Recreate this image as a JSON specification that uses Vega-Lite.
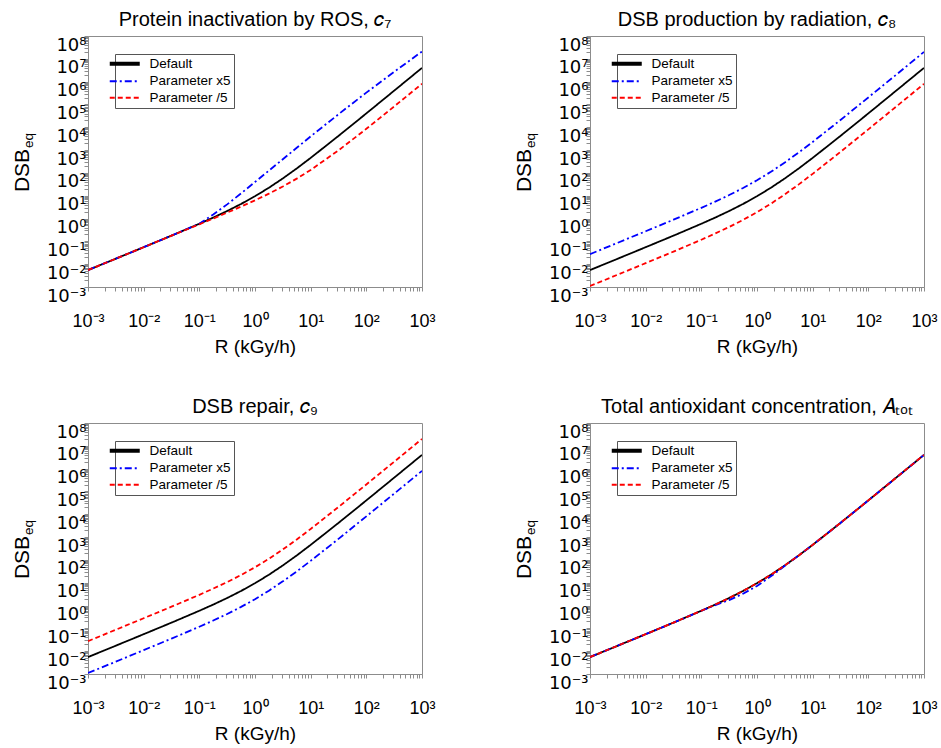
{
  "$schema": "https://vega.github.io/schema/vega-lite/v6.json",
  "background": "white",
  "autosize": {"type": "pad"},
  "padding": {"left": 10, "top": 9, "right": 5, "bottom": 5},
  "bounds": "flush",
  "columns": 2,
  "spacing": {"row": 136, "column": 168},
  "config": {
    "font": "Liberation Sans",
    "view": {"stroke": "#8c8c8c", "strokeWidth": 1},
    "axis": {"labelFont": "Liberation Sans", "titleFont": "Liberation Sans", "titleFontWeight": "normal", "labelColor": "#000", "titleColor": "#000", "domainColor": "#8c8c8c", "tickColor": "#8c8c8c", "grid": false},
    "title": {"font": "Liberation Sans", "fontSize": 20, "fontWeight": "normal", "color": "#000", "frame": "group", "anchor": "middle", "offset": 6},
    "legend": {"orient": "none", "legendX": 27, "legendY": 18, "title": null, "labelFont": "Liberation Sans", "labelFontSize": 13.5, "labelColor": "#000", "symbolType": "stroke", "symbolSize": 900, "symbolStrokeWidth": 2, "labelOffset": 18, "padding": 3, "rowPadding": 1.5, "strokeColor": "#555", "strokeWidth": 1, "fillColor": "white", "cornerRadius": 0, "symbolOffset": 0}
  },
  "datasets": {
    "c7": [
      {"s": "Default", "R": 0.001, "y": 0.00551}, {"s": "Default", "R": 0.003162, "y": 0.01742}, {"s": "Default", "R": 0.01, "y": 0.0555}, {"s": "Default", "R": 0.03162, "y": 0.178}, {"s": "Default", "R": 0.1, "y": 0.59}, {"s": "Default", "R": 0.1778, "y": 1.104}, {"s": "Default", "R": 0.3162, "y": 2.14}, {"s": "Default", "R": 0.5623, "y": 4.36}, {"s": "Default", "R": 1, "y": 9.5}, {"s": "Default", "R": 1.778, "y": 22.4}, {"s": "Default", "R": 3.162, "y": 57.4}, {"s": "Default", "R": 5.623, "y": 157}, {"s": "Default", "R": 10, "y": 455}, {"s": "Default", "R": 31.62, "y": 4180}, {"s": "Default", "R": 100, "y": 40550}, {"s": "Default", "R": 316.2, "y": 401700}, {"s": "Default", "R": 1000, "y": 4006000},
      {"s": "Parameter x5", "R": 0.001, "y": 0.00551}, {"s": "Parameter x5", "R": 0.003162, "y": 0.01742}, {"s": "Parameter x5", "R": 0.01, "y": 0.0555}, {"s": "Parameter x5", "R": 0.03162, "y": 0.178}, {"s": "Parameter x5", "R": 0.1, "y": 0.59}, {"s": "Parameter x5", "R": 0.1778, "y": 1.51}, {"s": "Parameter x5", "R": 0.3162, "y": 4.17}, {"s": "Parameter x5", "R": 0.5623, "y": 12.6}, {"s": "Parameter x5", "R": 1, "y": 39.8}, {"s": "Parameter x5", "R": 1.778, "y": 126}, {"s": "Parameter x5", "R": 3.162, "y": 398}, {"s": "Parameter x5", "R": 5.623, "y": 1259}, {"s": "Parameter x5", "R": 10, "y": 3981}, {"s": "Parameter x5", "R": 31.62, "y": 37150}, {"s": "Parameter x5", "R": 100, "y": 331100}, {"s": "Parameter x5", "R": 316.2, "y": 2692000}, {"s": "Parameter x5", "R": 1000, "y": 20890000},
      {"s": "Parameter /5", "R": 0.001, "y": 0.00551}, {"s": "Parameter /5", "R": 0.003162, "y": 0.01742}, {"s": "Parameter /5", "R": 0.01, "y": 0.0554}, {"s": "Parameter /5", "R": 0.03162, "y": 0.1775}, {"s": "Parameter /5", "R": 0.1, "y": 0.558}, {"s": "Parameter /5", "R": 0.1778, "y": 1.003}, {"s": "Parameter /5", "R": 0.3162, "y": 1.819}, {"s": "Parameter /5", "R": 0.5623, "y": 3.346}, {"s": "Parameter /5", "R": 1, "y": 6.3}, {"s": "Parameter /5", "R": 1.778, "y": 12.31}, {"s": "Parameter /5", "R": 3.162, "y": 25.39}, {"s": "Parameter /5", "R": 5.623, "y": 56.2}, {"s": "Parameter /5", "R": 10, "y": 135}, {"s": "Parameter /5", "R": 31.62, "y": 974}, {"s": "Parameter /5", "R": 100, "y": 8550}, {"s": "Parameter /5", "R": 316.2, "y": 81740}, {"s": "Parameter /5", "R": 1000, "y": 805500}
    ],
    "c8": [
      {"s": "Default", "R": 0.001, "y": 0.00551}, {"s": "Default", "R": 0.003162, "y": 0.01742}, {"s": "Default", "R": 0.01, "y": 0.0555}, {"s": "Default", "R": 0.03162, "y": 0.178}, {"s": "Default", "R": 0.1, "y": 0.59}, {"s": "Default", "R": 0.1778, "y": 1.104}, {"s": "Default", "R": 0.3162, "y": 2.14}, {"s": "Default", "R": 0.5623, "y": 4.36}, {"s": "Default", "R": 1, "y": 9.5}, {"s": "Default", "R": 1.778, "y": 22.4}, {"s": "Default", "R": 3.162, "y": 57.4}, {"s": "Default", "R": 5.623, "y": 157}, {"s": "Default", "R": 10, "y": 455}, {"s": "Default", "R": 31.62, "y": 4180}, {"s": "Default", "R": 100, "y": 40550}, {"s": "Default", "R": 316.2, "y": 401700}, {"s": "Default", "R": 1000, "y": 4006000},
      {"s": "Parameter x5", "R": 0.001, "y": 0.02755}, {"s": "Parameter x5", "R": 0.003162, "y": 0.0871}, {"s": "Parameter x5", "R": 0.01, "y": 0.2775}, {"s": "Parameter x5", "R": 0.03162, "y": 0.89}, {"s": "Parameter x5", "R": 0.1, "y": 2.95}, {"s": "Parameter x5", "R": 0.1778, "y": 5.52}, {"s": "Parameter x5", "R": 0.3162, "y": 10.7}, {"s": "Parameter x5", "R": 0.5623, "y": 21.8}, {"s": "Parameter x5", "R": 1, "y": 47.5}, {"s": "Parameter x5", "R": 1.778, "y": 112}, {"s": "Parameter x5", "R": 3.162, "y": 287}, {"s": "Parameter x5", "R": 5.623, "y": 785}, {"s": "Parameter x5", "R": 10, "y": 2275}, {"s": "Parameter x5", "R": 31.62, "y": 20900}, {"s": "Parameter x5", "R": 100, "y": 202750}, {"s": "Parameter x5", "R": 316.2, "y": 2008500}, {"s": "Parameter x5", "R": 1000, "y": 20030000},
      {"s": "Parameter /5", "R": 0.001, "y": 0.001102}, {"s": "Parameter /5", "R": 0.003162, "y": 0.003484}, {"s": "Parameter /5", "R": 0.01, "y": 0.0111}, {"s": "Parameter /5", "R": 0.03162, "y": 0.0356}, {"s": "Parameter /5", "R": 0.1, "y": 0.118}, {"s": "Parameter /5", "R": 0.1778, "y": 0.2208}, {"s": "Parameter /5", "R": 0.3162, "y": 0.428}, {"s": "Parameter /5", "R": 0.5623, "y": 0.872}, {"s": "Parameter /5", "R": 1, "y": 1.9}, {"s": "Parameter /5", "R": 1.778, "y": 4.48}, {"s": "Parameter /5", "R": 3.162, "y": 11.48}, {"s": "Parameter /5", "R": 5.623, "y": 31.4}, {"s": "Parameter /5", "R": 10, "y": 91}, {"s": "Parameter /5", "R": 31.62, "y": 836}, {"s": "Parameter /5", "R": 100, "y": 8110}, {"s": "Parameter /5", "R": 316.2, "y": 80340}, {"s": "Parameter /5", "R": 1000, "y": 801200}
    ],
    "c9": [
      {"s": "Default", "R": 0.001, "y": 0.00551}, {"s": "Default", "R": 0.003162, "y": 0.01742}, {"s": "Default", "R": 0.01, "y": 0.0555}, {"s": "Default", "R": 0.03162, "y": 0.178}, {"s": "Default", "R": 0.1, "y": 0.59}, {"s": "Default", "R": 0.1778, "y": 1.104}, {"s": "Default", "R": 0.3162, "y": 2.14}, {"s": "Default", "R": 0.5623, "y": 4.36}, {"s": "Default", "R": 1, "y": 9.5}, {"s": "Default", "R": 1.778, "y": 22.4}, {"s": "Default", "R": 3.162, "y": 57.4}, {"s": "Default", "R": 5.623, "y": 157}, {"s": "Default", "R": 10, "y": 455}, {"s": "Default", "R": 31.62, "y": 4180}, {"s": "Default", "R": 100, "y": 40550}, {"s": "Default", "R": 316.2, "y": 401700}, {"s": "Default", "R": 1000, "y": 4006000},
      {"s": "Parameter x5", "R": 0.001, "y": 0.001102}, {"s": "Parameter x5", "R": 0.003162, "y": 0.003484}, {"s": "Parameter x5", "R": 0.01, "y": 0.0111}, {"s": "Parameter x5", "R": 0.03162, "y": 0.0356}, {"s": "Parameter x5", "R": 0.1, "y": 0.118}, {"s": "Parameter x5", "R": 0.1778, "y": 0.2208}, {"s": "Parameter x5", "R": 0.3162, "y": 0.428}, {"s": "Parameter x5", "R": 0.5623, "y": 0.872}, {"s": "Parameter x5", "R": 1, "y": 1.9}, {"s": "Parameter x5", "R": 1.778, "y": 4.48}, {"s": "Parameter x5", "R": 3.162, "y": 11.48}, {"s": "Parameter x5", "R": 5.623, "y": 31.4}, {"s": "Parameter x5", "R": 10, "y": 91}, {"s": "Parameter x5", "R": 31.62, "y": 836}, {"s": "Parameter x5", "R": 100, "y": 8110}, {"s": "Parameter x5", "R": 316.2, "y": 80340}, {"s": "Parameter x5", "R": 1000, "y": 801200},
      {"s": "Parameter /5", "R": 0.001, "y": 0.02755}, {"s": "Parameter /5", "R": 0.003162, "y": 0.0871}, {"s": "Parameter /5", "R": 0.01, "y": 0.2775}, {"s": "Parameter /5", "R": 0.03162, "y": 0.89}, {"s": "Parameter /5", "R": 0.1, "y": 2.95}, {"s": "Parameter /5", "R": 0.1778, "y": 5.52}, {"s": "Parameter /5", "R": 0.3162, "y": 10.7}, {"s": "Parameter /5", "R": 0.5623, "y": 21.8}, {"s": "Parameter /5", "R": 1, "y": 47.5}, {"s": "Parameter /5", "R": 1.778, "y": 112}, {"s": "Parameter /5", "R": 3.162, "y": 287}, {"s": "Parameter /5", "R": 5.623, "y": 785}, {"s": "Parameter /5", "R": 10, "y": 2275}, {"s": "Parameter /5", "R": 31.62, "y": 20900}, {"s": "Parameter /5", "R": 100, "y": 202750}, {"s": "Parameter /5", "R": 316.2, "y": 2008500}, {"s": "Parameter /5", "R": 1000, "y": 20030000}
    ],
    "atot": [
      {"s": "Default", "R": 0.001, "y": 0.00551}, {"s": "Default", "R": 0.003162, "y": 0.01742}, {"s": "Default", "R": 0.01, "y": 0.0555}, {"s": "Default", "R": 0.03162, "y": 0.178}, {"s": "Default", "R": 0.1, "y": 0.59}, {"s": "Default", "R": 0.1778, "y": 1.104}, {"s": "Default", "R": 0.3162, "y": 2.14}, {"s": "Default", "R": 0.5623, "y": 4.36}, {"s": "Default", "R": 1, "y": 9.5}, {"s": "Default", "R": 1.778, "y": 22.4}, {"s": "Default", "R": 3.162, "y": 57.4}, {"s": "Default", "R": 5.623, "y": 157}, {"s": "Default", "R": 10, "y": 455}, {"s": "Default", "R": 31.62, "y": 4180}, {"s": "Default", "R": 100, "y": 40550}, {"s": "Default", "R": 316.2, "y": 401700}, {"s": "Default", "R": 1000, "y": 4006000},
      {"s": "Parameter x5", "R": 0.001, "y": 0.00551}, {"s": "Parameter x5", "R": 0.003162, "y": 0.01742}, {"s": "Parameter x5", "R": 0.01, "y": 0.0555}, {"s": "Parameter x5", "R": 0.03162, "y": 0.178}, {"s": "Parameter x5", "R": 0.1, "y": 0.59}, {"s": "Parameter x5", "R": 0.1778, "y": 1.05}, {"s": "Parameter x5", "R": 0.3162, "y": 1.74}, {"s": "Parameter x5", "R": 0.5623, "y": 3.31}, {"s": "Parameter x5", "R": 1, "y": 7.24}, {"s": "Parameter x5", "R": 1.778, "y": 19.1}, {"s": "Parameter x5", "R": 3.162, "y": 55}, {"s": "Parameter x5", "R": 5.623, "y": 157}, {"s": "Parameter x5", "R": 10, "y": 455}, {"s": "Parameter x5", "R": 31.62, "y": 4180}, {"s": "Parameter x5", "R": 100, "y": 40550}, {"s": "Parameter x5", "R": 316.2, "y": 401700}, {"s": "Parameter x5", "R": 1000, "y": 4006000},
      {"s": "Parameter /5", "R": 0.001, "y": 0.00551}, {"s": "Parameter /5", "R": 0.003162, "y": 0.01742}, {"s": "Parameter /5", "R": 0.01, "y": 0.0555}, {"s": "Parameter /5", "R": 0.03162, "y": 0.178}, {"s": "Parameter /5", "R": 0.1, "y": 0.59}, {"s": "Parameter /5", "R": 0.1778, "y": 1.104}, {"s": "Parameter /5", "R": 0.3162, "y": 2.14}, {"s": "Parameter /5", "R": 0.5623, "y": 4.36}, {"s": "Parameter /5", "R": 1, "y": 9.5}, {"s": "Parameter /5", "R": 1.778, "y": 22.4}, {"s": "Parameter /5", "R": 3.162, "y": 57.4}, {"s": "Parameter /5", "R": 5.623, "y": 157}, {"s": "Parameter /5", "R": 10, "y": 455}, {"s": "Parameter /5", "R": 31.62, "y": 4180}, {"s": "Parameter /5", "R": 100, "y": 40550}, {"s": "Parameter /5", "R": 316.2, "y": 401700}, {"s": "Parameter /5", "R": 1000, "y": 4006000}
    ]
  },
  "concat": [
    {
      "title": {"text": "Protein inactivation by ROS, 𝑐₇"},
      "width": 334, "height": 251,
      "data": {"name": "c7"},
      "layer": [
        {
          "mark": {"type": "line", "strokeWidth": 1.8, "clip": true},
          "encoding": {
            "x": {"field": "R", "type": "quantitative", "scale": {"type": "log", "domain": [0.001, 1000], "nice": false}, "axis": {"title": "R (kGy/h)", "titleFontSize": 19, "titlePadding": 7, "labelFontSize": 18, "labelFlush": false, "labelOverlap": false, "tickSize": 4, "labelPadding": 21, "values": [0.001,0.002,0.003,0.004,0.005,0.006,0.007,0.008,0.009,0.01,0.02,0.03,0.04,0.05,0.06,0.07,0.08,0.09,0.1,0.2,0.3,0.4,0.5,0.6,0.7,0.8,0.9,1,2,3,4,5,6,7,8,9,10,20,30,40,50,60,70,80,90,100,200,300,400,500,600,700,800,900,1000], "labelExpr": "abs(log(datum.value)/LN10 - round(log(datum.value)/LN10)) < 0.01 ? ['10⁻³','10⁻²','10⁻¹','10⁰','10¹','10²','10³'][round(log(datum.value)/LN10)+3] : ''"}},
            "y": {"field": "y", "type": "quantitative", "scale": {"type": "log", "domain": [0.001, 100000000], "nice": false}, "axis": {"title": "DSB", "orient": "left", "titleFontSize": 21, "titleX": -56, "titleY": 134, "labelFont": "DejaVu Sans", "labelFontSize": 18, "labelOverlap": false, "tickSize": 4, "labelPadding": -2, "labelOffset": 9, "values": [0.001,0.002,0.003,0.004,0.005,0.006,0.007,0.008,0.009,0.01,0.02,0.03,0.04,0.05,0.06,0.07,0.08,0.09,0.1,0.2,0.3,0.4,0.5,0.6,0.7,0.8,0.9,1,2,3,4,5,6,7,8,9,10,20,30,40,50,60,70,80,90,100,200,300,400,500,600,700,800,900,1000,2000,3000,4000,5000,6000,7000,8000,9000,10000,20000,30000,40000,50000,60000,70000,80000,90000,100000,200000,300000,400000,500000,600000,700000,800000,900000,1000000,2000000,3000000,4000000,5000000,6000000,7000000,8000000,9000000,10000000,20000000,30000000,40000000,50000000,60000000,70000000,80000000,90000000,100000000], "labelExpr": "abs(log(datum.value)/LN10 - round(log(datum.value)/LN10)) < 0.01 ? ['10⁻³','10⁻²','10⁻¹','10⁰','10¹','10²','10³','10⁴','10⁵','10⁶','10⁷','10⁸'][round(log(datum.value)/LN10)+3] : ''"}},
            "color": {"field": "s", "type": "nominal", "scale": {"domain": ["Default", "Parameter x5", "Parameter /5"], "range": ["#000000", "#0000ff", "#ff0000"]}, "legend": {"encode": {"symbols": {"update": {"strokeWidth": {"signal": "datum.value == 'Default' ? 4 : 2"}}}}}},
            "strokeDash": {"field": "s", "type": "nominal", "scale": {"domain": ["Default", "Parameter x5", "Parameter /5"], "range": [[1, 0], [7, 3, 2, 3], [5, 3]]}}
          }
        },
        {
          "mark": {"type": "line", "opacity": 0},
          "encoding": {
            "x": {"field": "R", "type": "quantitative"},
            "y": {"field": "y", "type": "quantitative", "axis": {"title": "eq", "orient": "left", "labels": false, "ticks": false, "domain": false, "titleFontSize": 13.5, "titleX": -53, "titleY": 104}}
          }
        }
      ],
      "resolve": {"axis": {"y": "independent"}}
    },
    {
      "title": {"text": "DSB production by radiation, 𝑐₈"},
      "width": 334, "height": 251,
      "data": {"name": "c8"},
      "layer": [
        {
          "mark": {"type": "line", "strokeWidth": 1.8, "clip": true},
          "encoding": {
            "x": {"field": "R", "type": "quantitative", "scale": {"type": "log", "domain": [0.001, 1000], "nice": false}, "axis": {"title": "R (kGy/h)", "titleFontSize": 19, "titlePadding": 7, "labelFontSize": 18, "labelFlush": false, "labelOverlap": false, "tickSize": 4, "labelPadding": 21, "values": [0.001,0.002,0.003,0.004,0.005,0.006,0.007,0.008,0.009,0.01,0.02,0.03,0.04,0.05,0.06,0.07,0.08,0.09,0.1,0.2,0.3,0.4,0.5,0.6,0.7,0.8,0.9,1,2,3,4,5,6,7,8,9,10,20,30,40,50,60,70,80,90,100,200,300,400,500,600,700,800,900,1000], "labelExpr": "abs(log(datum.value)/LN10 - round(log(datum.value)/LN10)) < 0.01 ? ['10⁻³','10⁻²','10⁻¹','10⁰','10¹','10²','10³'][round(log(datum.value)/LN10)+3] : ''"}},
            "y": {"field": "y", "type": "quantitative", "scale": {"type": "log", "domain": [0.001, 100000000], "nice": false}, "axis": {"title": "DSB", "orient": "left", "titleFontSize": 21, "titleX": -56, "titleY": 134, "labelFont": "DejaVu Sans", "labelFontSize": 18, "labelOverlap": false, "tickSize": 4, "labelPadding": -2, "labelOffset": 9, "values": [0.001,0.002,0.003,0.004,0.005,0.006,0.007,0.008,0.009,0.01,0.02,0.03,0.04,0.05,0.06,0.07,0.08,0.09,0.1,0.2,0.3,0.4,0.5,0.6,0.7,0.8,0.9,1,2,3,4,5,6,7,8,9,10,20,30,40,50,60,70,80,90,100,200,300,400,500,600,700,800,900,1000,2000,3000,4000,5000,6000,7000,8000,9000,10000,20000,30000,40000,50000,60000,70000,80000,90000,100000,200000,300000,400000,500000,600000,700000,800000,900000,1000000,2000000,3000000,4000000,5000000,6000000,7000000,8000000,9000000,10000000,20000000,30000000,40000000,50000000,60000000,70000000,80000000,90000000,100000000], "labelExpr": "abs(log(datum.value)/LN10 - round(log(datum.value)/LN10)) < 0.01 ? ['10⁻³','10⁻²','10⁻¹','10⁰','10¹','10²','10³','10⁴','10⁵','10⁶','10⁷','10⁸'][round(log(datum.value)/LN10)+3] : ''"}},
            "color": {"field": "s", "type": "nominal", "scale": {"domain": ["Default", "Parameter x5", "Parameter /5"], "range": ["#000000", "#0000ff", "#ff0000"]}, "legend": {"encode": {"symbols": {"update": {"strokeWidth": {"signal": "datum.value == 'Default' ? 4 : 2"}}}}}},
            "strokeDash": {"field": "s", "type": "nominal", "scale": {"domain": ["Default", "Parameter x5", "Parameter /5"], "range": [[1, 0], [7, 3, 2, 3], [5, 3]]}}
          }
        },
        {
          "mark": {"type": "line", "opacity": 0},
          "encoding": {
            "x": {"field": "R", "type": "quantitative"},
            "y": {"field": "y", "type": "quantitative", "axis": {"title": "eq", "orient": "left", "labels": false, "ticks": false, "domain": false, "titleFontSize": 13.5, "titleX": -53, "titleY": 104}}
          }
        }
      ],
      "resolve": {"axis": {"y": "independent"}}
    },
    {
      "title": {"text": "DSB repair, 𝑐₉"},
      "width": 334, "height": 251,
      "data": {"name": "c9"},
      "layer": [
        {
          "mark": {"type": "line", "strokeWidth": 1.8, "clip": true},
          "encoding": {
            "x": {"field": "R", "type": "quantitative", "scale": {"type": "log", "domain": [0.001, 1000], "nice": false}, "axis": {"title": "R (kGy/h)", "titleFontSize": 19, "titlePadding": 7, "labelFontSize": 18, "labelFlush": false, "labelOverlap": false, "tickSize": 4, "labelPadding": 21, "values": [0.001,0.002,0.003,0.004,0.005,0.006,0.007,0.008,0.009,0.01,0.02,0.03,0.04,0.05,0.06,0.07,0.08,0.09,0.1,0.2,0.3,0.4,0.5,0.6,0.7,0.8,0.9,1,2,3,4,5,6,7,8,9,10,20,30,40,50,60,70,80,90,100,200,300,400,500,600,700,800,900,1000], "labelExpr": "abs(log(datum.value)/LN10 - round(log(datum.value)/LN10)) < 0.01 ? ['10⁻³','10⁻²','10⁻¹','10⁰','10¹','10²','10³'][round(log(datum.value)/LN10)+3] : ''"}},
            "y": {"field": "y", "type": "quantitative", "scale": {"type": "log", "domain": [0.001, 100000000], "nice": false}, "axis": {"title": "DSB", "orient": "left", "titleFontSize": 21, "titleX": -56, "titleY": 134, "labelFont": "DejaVu Sans", "labelFontSize": 18, "labelOverlap": false, "tickSize": 4, "labelPadding": -2, "labelOffset": 9, "values": [0.001,0.002,0.003,0.004,0.005,0.006,0.007,0.008,0.009,0.01,0.02,0.03,0.04,0.05,0.06,0.07,0.08,0.09,0.1,0.2,0.3,0.4,0.5,0.6,0.7,0.8,0.9,1,2,3,4,5,6,7,8,9,10,20,30,40,50,60,70,80,90,100,200,300,400,500,600,700,800,900,1000,2000,3000,4000,5000,6000,7000,8000,9000,10000,20000,30000,40000,50000,60000,70000,80000,90000,100000,200000,300000,400000,500000,600000,700000,800000,900000,1000000,2000000,3000000,4000000,5000000,6000000,7000000,8000000,9000000,10000000,20000000,30000000,40000000,50000000,60000000,70000000,80000000,90000000,100000000], "labelExpr": "abs(log(datum.value)/LN10 - round(log(datum.value)/LN10)) < 0.01 ? ['10⁻³','10⁻²','10⁻¹','10⁰','10¹','10²','10³','10⁴','10⁵','10⁶','10⁷','10⁸'][round(log(datum.value)/LN10)+3] : ''"}},
            "color": {"field": "s", "type": "nominal", "scale": {"domain": ["Default", "Parameter x5", "Parameter /5"], "range": ["#000000", "#0000ff", "#ff0000"]}, "legend": {"encode": {"symbols": {"update": {"strokeWidth": {"signal": "datum.value == 'Default' ? 4 : 2"}}}}}},
            "strokeDash": {"field": "s", "type": "nominal", "scale": {"domain": ["Default", "Parameter x5", "Parameter /5"], "range": [[1, 0], [7, 3, 2, 3], [5, 3]]}}
          }
        },
        {
          "mark": {"type": "line", "opacity": 0},
          "encoding": {
            "x": {"field": "R", "type": "quantitative"},
            "y": {"field": "y", "type": "quantitative", "axis": {"title": "eq", "orient": "left", "labels": false, "ticks": false, "domain": false, "titleFontSize": 13.5, "titleX": -53, "titleY": 104}}
          }
        }
      ],
      "resolve": {"axis": {"y": "independent"}}
    },
    {
      "title": {"text": "Total antioxidant concentration, 𝐴ₜₒₜ"},
      "width": 334, "height": 251,
      "data": {"name": "atot"},
      "layer": [
        {
          "mark": {"type": "line", "strokeWidth": 1.8, "clip": true},
          "encoding": {
            "x": {"field": "R", "type": "quantitative", "scale": {"type": "log", "domain": [0.001, 1000], "nice": false}, "axis": {"title": "R (kGy/h)", "titleFontSize": 19, "titlePadding": 7, "labelFontSize": 18, "labelFlush": false, "labelOverlap": false, "tickSize": 4, "labelPadding": 21, "values": [0.001,0.002,0.003,0.004,0.005,0.006,0.007,0.008,0.009,0.01,0.02,0.03,0.04,0.05,0.06,0.07,0.08,0.09,0.1,0.2,0.3,0.4,0.5,0.6,0.7,0.8,0.9,1,2,3,4,5,6,7,8,9,10,20,30,40,50,60,70,80,90,100,200,300,400,500,600,700,800,900,1000], "labelExpr": "abs(log(datum.value)/LN10 - round(log(datum.value)/LN10)) < 0.01 ? ['10⁻³','10⁻²','10⁻¹','10⁰','10¹','10²','10³'][round(log(datum.value)/LN10)+3] : ''"}},
            "y": {"field": "y", "type": "quantitative", "scale": {"type": "log", "domain": [0.001, 100000000], "nice": false}, "axis": {"title": "DSB", "orient": "left", "titleFontSize": 21, "titleX": -56, "titleY": 134, "labelFont": "DejaVu Sans", "labelFontSize": 18, "labelOverlap": false, "tickSize": 4, "labelPadding": -2, "labelOffset": 9, "values": [0.001,0.002,0.003,0.004,0.005,0.006,0.007,0.008,0.009,0.01,0.02,0.03,0.04,0.05,0.06,0.07,0.08,0.09,0.1,0.2,0.3,0.4,0.5,0.6,0.7,0.8,0.9,1,2,3,4,5,6,7,8,9,10,20,30,40,50,60,70,80,90,100,200,300,400,500,600,700,800,900,1000,2000,3000,4000,5000,6000,7000,8000,9000,10000,20000,30000,40000,50000,60000,70000,80000,90000,100000,200000,300000,400000,500000,600000,700000,800000,900000,1000000,2000000,3000000,4000000,5000000,6000000,7000000,8000000,9000000,10000000,20000000,30000000,40000000,50000000,60000000,70000000,80000000,90000000,100000000], "labelExpr": "abs(log(datum.value)/LN10 - round(log(datum.value)/LN10)) < 0.01 ? ['10⁻³','10⁻²','10⁻¹','10⁰','10¹','10²','10³','10⁴','10⁵','10⁶','10⁷','10⁸'][round(log(datum.value)/LN10)+3] : ''"}},
            "color": {"field": "s", "type": "nominal", "scale": {"domain": ["Default", "Parameter x5", "Parameter /5"], "range": ["#000000", "#0000ff", "#ff0000"]}, "legend": {"encode": {"symbols": {"update": {"strokeWidth": {"signal": "datum.value == 'Default' ? 4 : 2"}}}}}},
            "strokeDash": {"field": "s", "type": "nominal", "scale": {"domain": ["Default", "Parameter x5", "Parameter /5"], "range": [[1, 0], [7, 3, 2, 3], [5, 3]]}}
          }
        },
        {
          "mark": {"type": "line", "opacity": 0},
          "encoding": {
            "x": {"field": "R", "type": "quantitative"},
            "y": {"field": "y", "type": "quantitative", "axis": {"title": "eq", "orient": "left", "labels": false, "ticks": false, "domain": false, "titleFontSize": 13.5, "titleX": -53, "titleY": 104}}
          }
        }
      ],
      "resolve": {"axis": {"y": "independent"}}
    }
  ],
  "resolve": {"scale": {"color": "independent", "strokeDash": "independent"}, "legend": {"color": "independent", "strokeDash": "independent"}}
}
